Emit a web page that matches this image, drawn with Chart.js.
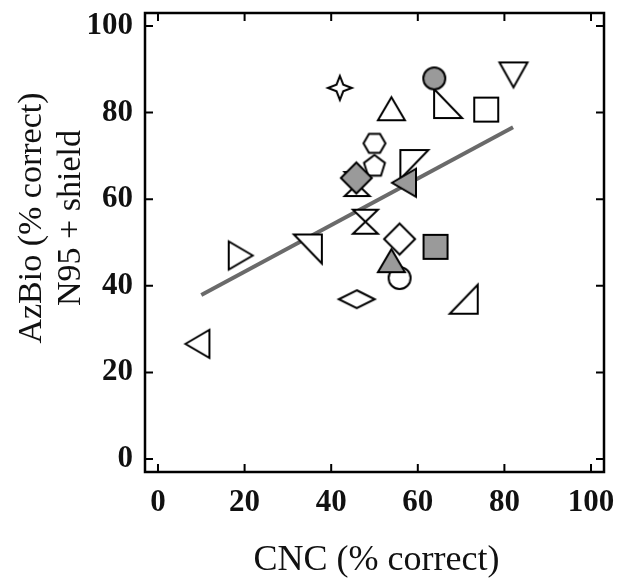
<!DOCTYPE html>
<html>
<head>
<meta charset="utf-8">
<script src="https://cdn.jsdelivr.net/npm/chart.js@4"></script>
<style>
    body { margin: 0; background: #fff; }
</style>
</head>
<body>
<canvas id="scatterChart" width="617" height="579"></canvas>
<script>
// Data: CNC vs AzBio (N95 + shield)
const cncScores   = [9.1, 19.1, 34.6, 42.0, 53.9, 67.0, 63.8, 75.8, 82.1, 50.0, 46.0, 50.0, 59.2, 45.8, 56.8, 47.9, 55.8, 64.1, 55.8, 53.9, 45.9, 70.6];
const azbioScores = [26.6, 47.0, 48.5, 85.7, 80.9, 82.1, 87.9, 80.7, 88.7, 72.9, 63.5, 67.8, 68.0, 64.9, 63.8, 54.8, 50.8, 49.0, 41.8, 45.8, 36.9, 36.9];
const markerShapes = ['triLeft', 'triRight', 'rtTR', 'star4', 'triUp', 'rtBL', 'circle', 'square', 'triDown', 'hexagon',
    'hourglass', 'pentagon', 'rtTL', 'diamond', 'triLeft', 'hourglass', 'diamond', 'square', 'circle', 'triUp', 'flatDiamond', 'rtBR'];
const markerFilled = [false, false, false, false, false, false, true, false, false, false,
    false, false, false, true, true, false, false, true, false, true, false, false];

// regression line end points
const fitX = [10, 82];
const fitY = [37.9, 76.6];

const tickValues = [0, 20, 40, 60, 80, 100];

// Marker drawing helpers
const SIZES = {
    triUp: [27, 23], triDown: [28, 25], triLeft: [24, 28], triRight: [24, 28],
    rtTR: [28, 29], rtBL: [28, 29], rtTL: [28, 29], rtBR: [28, 29],
    square: [24, 24], diamond: [31, 31], flatDiamond: [36, 18],
    hexagon: [22, 22], pentagon: [22, 22], hourglass: [25, 24], star4: [24, 24], circle: [22, 22]
};

function shapePoints(shape, w, h) {
    const a = w / 2, b = h / 2;
    switch (shape) {
        case 'triUp': return [[0, -b], [a, b], [-a, b]];
        case 'triDown': return [[-a, -b], [a, -b], [0, b]];
        case 'triLeft': return [[-a, 0], [a, -b], [a, b]];
        case 'triRight': return [[a, 0], [-a, -b], [-a, b]];
        case 'rtTR': return [[-a, -b], [a, -b], [a, b]];
        case 'rtBL': return [[-a, -b], [-a, b], [a, b]];
        case 'rtTL': return [[-a, -b], [a, -b], [-a, b]];
        case 'rtBR': return [[a, -b], [a, b], [-a, b]];
        case 'square': return [[-a, -b], [a, -b], [a, b], [-a, b]];
        case 'diamond':
        case 'flatDiamond': return [[0, -b], [a, 0], [0, b], [-a, 0]];
        case 'hourglass': return [[-a, -b], [a, -b], [-a, b], [a, b]];
        case 'hexagon': {
            const pts = [];
            for (let i = 0; i < 6; i++) {
                const t = i * Math.PI / 3;
                pts.push([a * Math.cos(t), b * Math.sin(t)]);
            }
            return pts;
        }
        case 'pentagon': {
            const pts = [];
            for (let i = 0; i < 5; i++) {
                const t = -Math.PI / 2 + i * 2 * Math.PI / 5;
                pts.push([a * Math.cos(t), b * 1.05 * Math.sin(t) + 1]);
            }
            return pts;
        }
        case 'star4': {
            const k = a * 0.28;
            return [[0, -b], [k, -k], [a, 0], [k, k], [0, b], [-k, k], [-a, 0], [-k, -k]];
        }
    }
    return [];
}

function makeMarker(shape, filled) {
    const [w, h] = SIZES[shape];
    const pad = 3;
    const c = document.createElement('canvas');
    c.width = w + pad * 2;
    c.height = h + pad * 2;
    const ctx = c.getContext('2d');
    ctx.translate(c.width / 2, c.height / 2);
    ctx.beginPath();
    if (shape === 'circle') {
        ctx.arc(0, 0, w / 2, 0, Math.PI * 2);
    } else {
        const pts = shapePoints(shape, w, h);
        pts.forEach((p, i) => i ? ctx.lineTo(p[0], p[1]) : ctx.moveTo(p[0], p[1]));
        ctx.closePath();
    }
    ctx.fillStyle = filled ? '#9a9a9a' : '#ffffff';
    ctx.fill();
    ctx.lineWidth = 2;
    ctx.lineJoin = 'miter';
    ctx.strokeStyle = '#000';
    ctx.stroke();
    return c;
}

const markerStyles = markerShapes.map((s, i) => makeMarker(s, markerFilled[i]));

// Frame, inward ticks on all four sides, and axis titles
const framePlugin = {
    id: 'frame',
    afterDraw(chart) {
        const { ctx, chartArea: a, scales } = chart;
        ctx.save();
        ctx.strokeStyle = '#000';
        ctx.lineWidth = 2.5;
        ctx.strokeRect(a.left, a.top, a.right - a.left, a.bottom - a.top);
        ctx.lineWidth = 2;
        const len = 8;
        ctx.beginPath();
        tickValues.forEach(v => {
            const x = scales.x.getPixelForValue(v);
            ctx.moveTo(x, a.bottom); ctx.lineTo(x, a.bottom - len);
            ctx.moveTo(x, a.top); ctx.lineTo(x, a.top + len);
            const y = scales.y.getPixelForValue(v);
            ctx.moveTo(a.left, y); ctx.lineTo(a.left + len, y);
            ctx.moveTo(a.right, y); ctx.lineTo(a.right - len, y);
        });
        ctx.stroke();

        ctx.fillStyle = '#111';
        ctx.textAlign = 'center';
        ctx.textBaseline = 'alphabetic';
        ctx.font = '36px "Liberation Serif", serif';
        ctx.fillText('CNC (% correct)', (a.left + a.right) / 2 + 2, 570);

        ctx.font = '34px "Liberation Serif", serif';
        ctx.save();
        ctx.translate(41, 218);
        ctx.rotate(-Math.PI / 2);
        ctx.fillText('AzBio (% correct)', 0, 0);
        ctx.restore();
        ctx.save();
        ctx.translate(80, 218);
        ctx.rotate(-Math.PI / 2);
        ctx.fillText('N95 + shield', 0, 0);
        ctx.restore();
        ctx.restore();
    }
};

const tickFont = { family: '"Liberation Serif", serif', size: 31, weight: 'bold' };

function noPadding(s) {
    s.paddingTop = 0;
    s.paddingBottom = 0;
    s.paddingLeft = 0;
    s.paddingRight = 0;
}

new Chart(document.getElementById('scatterChart'), {
    type: 'scatter',
    data: {
        datasets: [
            {
                data: cncScores.map((x, i) => ({ x, y: azbioScores[i] })),
                pointStyle: markerStyles,
                pointRadius: 12,
                order: 0
            },
            {
                data: fitX.map((x, i) => ({ x, y: fitY[i] })),
                showLine: true,
                borderColor: '#6a6a6a',
                borderWidth: 4,
                pointRadius: 0,
                order: 1
            }
        ]
    },
    options: {
        responsive: false,
        animation: false,
        events: [],
        layout: { padding: { top: 13, right: 12, left: 0, bottom: 0 } },
        plugins: { legend: { display: false }, tooltip: { enabled: false } },
        scales: {
            x: {
                min: -3, max: 103,
                afterBuildTicks: s => { s.ticks = tickValues.map(v => ({ value: v })); },
                afterFit: s => { s.height = 107; noPadding(s); },
                grid: { display: false, drawTicks: false },
                border: { display: false },
                ticks: { font: tickFont, color: '#111', padding: 12, maxRotation: 0 }
            },
            y: {
                min: -3, max: 103,
                afterBuildTicks: s => { s.ticks = tickValues.map(v => ({ value: v })); },
                afterFit: s => { s.width = 145; noPadding(s); },
                grid: { display: false, drawTicks: false },
                border: { display: false },
                ticks: { font: tickFont, color: '#111', padding: 12 }
            }
        }
    },
    plugins: [framePlugin]
});
</script>
</body>
</html>
